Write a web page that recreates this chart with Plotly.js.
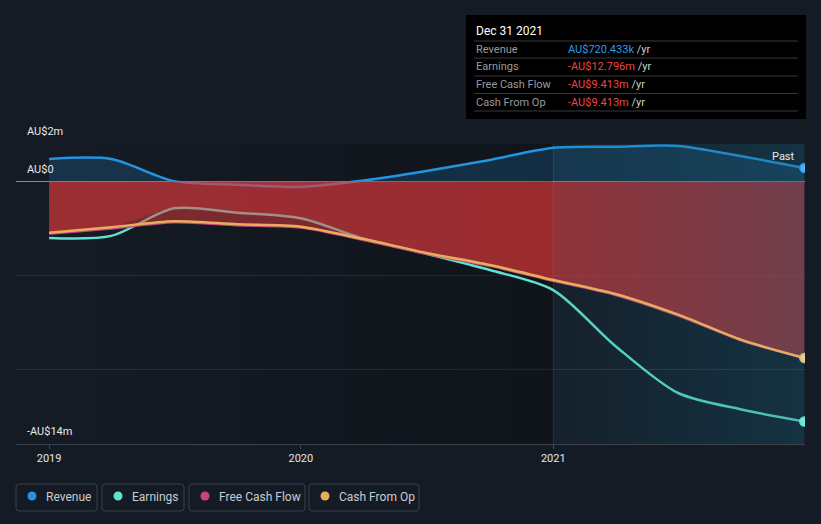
<!DOCTYPE html>
<html><head><meta charset="utf-8">
<script src="https://cdn.plot.ly/plotly-3.0.1.min.js"></script>
<style>html,body{margin:0;padding:0;background:#151b24;}#chart{width:821px;height:524px;}</style>
</head><body><div id="chart"></div>
<script>
// ---- data (AU$ millions) ----
const dates = ['2019-01-01','2019-04-01','2019-07-01','2019-10-01','2020-01-01','2020-04-01','2020-07-01','2020-10-01','2021-01-01','2021-04-01','2021-07-01','2021-10-01','2021-12-31'];
const revenue = [1.2, 1.2, 0.02, -0.17, -0.29, 0.05, 0.56, 1.15, 1.8, 1.86, 1.9, 1.35, 0.72];
const earnings = [-3.01, -2.9, -1.43, -1.66, -1.96, -3.05, -3.85, -4.72, -5.79, -8.77, -11.28, -12.16, -12.796];
const cashFromOp = [-2.73, -2.44, -2.12, -2.28, -2.41, -3.07, -3.81, -4.45, -5.25, -6.0, -7.1, -8.45, -9.413];
const freeCashFlow = [-2.79, -2.5, -2.17, -2.33, -2.46, -3.12, -3.86, -4.5, -5.3, -6.05, -7.15, -8.48, -9.413];
const yLabelVals = [2, 0, -14];
const yLabelText = ['AU$2m', 'AU$0', '-AU$14m'];
const yGridVals = [2, -5, -10];
const xTickVals = ['2019-01-01', '2020-01-01', '2021-01-01'];
const xTickText = ['2019', '2020', '2021'];
const seriesNames = ['Revenue', 'Earnings', 'Free Cash Flow', 'Cash From Op'];
const tooltipDate = 'Dec 31 2021';
const tooltipValues = ['AU$720.433k', '-AU$12.796m', '-AU$9.413m', '-AU$9.413m'];
const highlightStart = '2021-01-01';

// ---- styling ----
const C = {rev:'#2394df', earn:'#5fe3d0', fcf:'#c4457f', cfo:'#e8ad5c'};
const legendColors = [C.rev, C.earn, C.fcf, C.cfo];
const W=821, H=524, L=16, R=16, T=144, B=80;
const pw=W-L-R, ph=H-T-B;
const px = x => (x-L)/pw, py = y => (H-B-y)/ph;
const firstX = dates[0];
const lastX = dates[dates.length-1];
const last = a => a[a.length-1];
const upper = earnings.map((e,i) => Math.max(e, cashFromOp[i]));
const sp = {shape:'spline', smoothing:0.8};

const traces = [
  {x:[firstX, highlightStart, highlightStart, firstX], y:[2, 2, -14, -14], mode:'lines', line:{width:0}, fill:'toself',
   fillcolor:'rgba(0,0,0,0.12)',
   fillgradient:{type:'horizontal', colorscale:[[0,'rgba(0,0,0,0)'],[1,'rgba(0,0,0,0.25)']]}, hoverinfo:'skip'},
  {x:dates, y:revenue, mode:'lines', fill:'tozeroy', fillcolor:'rgba(35,148,223,0.2)', line:Object.assign({color:C.rev, width:2.5}, sp), hoverinfo:'skip'},
  {x:dates, y:upper, mode:'lines', fill:'tozeroy', fillcolor:'rgba(227,57,60,0.3)', line:Object.assign({width:0, color:'rgba(0,0,0,0)'}, sp), hoverinfo:'skip'},
  {x:dates, y:earnings, mode:'lines', line:Object.assign({color:C.earn, width:2.5}, sp), hoverinfo:'skip'},
  {x:dates, y:freeCashFlow, mode:'lines', line:Object.assign({color:C.fcf, width:2.5}, sp), hoverinfo:'skip'},
  {x:dates, y:cashFromOp, mode:'lines', fill:'tozeroy', fillcolor:'rgba(227,57,60,0.5)', line:Object.assign({width:0, color:'rgba(0,0,0,0)'}, sp), hoverinfo:'skip'},
  {x:[highlightStart, lastX, lastX, highlightStart], y:[2, 2, -14, -14], mode:'lines', line:{width:0}, fill:'toself',
   fillcolor:'rgba(20,100,130,0.2)',
   fillgradient:{type:'horizontal', colorscale:[[0,'rgba(20,100,130,0.08)'],[1,'rgba(20,100,130,0.32)']]}, hoverinfo:'skip'},
  {x:dates, y:cashFromOp, mode:'lines', line:Object.assign({color:C.cfo, width:2.5}, sp), hoverinfo:'skip'},
  {x:[lastX], y:[last(revenue)], mode:'markers', marker:{size:9, color:'#4fb2f2', line:{color:C.rev, width:1.5}}, hoverinfo:'skip'},
  {x:[lastX], y:[last(cashFromOp)], mode:'markers', marker:{size:9, color:'#ddd09c', line:{color:'#c9b77a', width:1.5}}, hoverinfo:'skip'},
  {x:[lastX], y:[last(earnings)], mode:'markers', marker:{size:9, color:'#6fe8d8', line:{color:C.earn, width:1.5}}, hoverinfo:'skip'}
];

function roundRect(x0,y0,x1,y1,r){
  const X=px, Y=py;
  return `M ${X(x0+r)} ${Y(y0)} L ${X(x1-r)} ${Y(y0)} Q ${X(x1)} ${Y(y0)} ${X(x1)} ${Y(y0+r)} L ${X(x1)} ${Y(y1-r)} Q ${X(x1)} ${Y(y1)} ${X(x1-r)} ${Y(y1)} L ${X(x0+r)} ${Y(y1)} Q ${X(x0)} ${Y(y1)} ${X(x0)} ${Y(y1-r)} L ${X(x0)} ${Y(y0+r)} Q ${X(x0)} ${Y(y0)} ${X(x0+r)} ${Y(y0)} Z`;
}

const shapes = [
  {type:'line', xref:'x', yref:'paper', x0:highlightStart, x1:highlightStart, y0:py(448), y1:1, line:{color:'rgba(255,255,255,0.09)', width:1}},
  {type:'rect', xref:'paper', yref:'paper', x0:px(466), x1:px(806), y0:py(119), y1:py(15), fillcolor:'#000000', line:{width:0}}
];
[41, 58, 76, 93.5, 111].forEach(yy => shapes.push({type:'line', xref:'paper', yref:'paper', x0:px(474), x1:px(798), y0:py(yy), y1:py(yy), line:{color:'#383838', width:1}}));

const annotations = [];
yLabelVals.forEach((v,i) => annotations.push({xref:'paper', yref:'y', x:px(25), y:v, xanchor:'left', yanchor:'bottom', yshift:4, text:yLabelText[i], showarrow:false, font:{size:11, color:'#e8e8e8'}}));
annotations.push({xref:'paper', yref:'paper', x:px(797), y:py(156), xanchor:'right', yanchor:'middle', text:'Past', showarrow:false, font:{size:11, color:'#e8e8e8'}});
annotations.push({xref:'paper', yref:'paper', x:px(474), y:py(31), xanchor:'left', yanchor:'middle', text:tooltipDate, showarrow:false, font:{size:12, color:'#ffffff'}});
const rowY = [49, 66.5, 84.5, 102];
const valColors = ['#2f9ce6', '#ee4444', '#ee4444', '#ee4444'];
seriesNames.forEach((n,i) => {
  annotations.push({xref:'paper', yref:'paper', x:px(474), y:py(rowY[i]), xanchor:'left', yanchor:'middle', text:n, showarrow:false, font:{size:11, color:'#9a9a9a'}});
  annotations.push({xref:'paper', yref:'paper', x:px(566), y:py(rowY[i]), xanchor:'left', yanchor:'middle',
    text:`<span style="color:${valColors[i]}">${tooltipValues[i]}</span><span style="color:#cfcfcf"> /yr</span>`, showarrow:false, font:{size:11}});
});
// legend boxes
const boxes = [[16,97],[102,184],[189,305],[309,419]];
const dotX = [32, 118, 205, 325];
const txtX = [44, 130, 217, 337];
seriesNames.forEach((n,i) => {
  shapes.push({type:'path', xref:'paper', yref:'paper', path:roundRect(boxes[i][0], 484, boxes[i][1], 511, 3), line:{color:'#3a404a', width:1}, fillcolor:'rgba(0,0,0,0)'});
  shapes.push({type:'circle', xref:'paper', yref:'paper', x0:px(dotX[i]-4.5), x1:px(dotX[i]+4.5), y0:py(496+4.5), y1:py(496-4.5), fillcolor:legendColors[i], line:{width:0}});
  annotations.push({xref:'paper', yref:'paper', x:px(txtX[i]), y:py(496.5), xanchor:'left', yanchor:'middle', text:n, showarrow:false, font:{size:12, color:'#c9ccd1'}});
});

const layout = {
  width:W, height:H,
  margin:{l:L, r:R, t:T, b:B, pad:0},
  paper_bgcolor:'#151b24', plot_bgcolor:'#151b24',
  showlegend:false,
  font:{family:'Roboto, "Open Sans", sans-serif', color:'#e6e6e6', size:11},
  xaxis:{type:'date', range:['2018-11-14','2022-01-01'], tickvals:xTickVals, ticktext:xTickText, showgrid:false, zeroline:false,
         showline:true, linecolor:'#3c424b', linewidth:1, ticks:'outside', ticklen:4, tickcolor:'#3c424b', tickfont:{size:11, color:'#e6e6e6'}, fixedrange:true},
  yaxis:{range:[-14,2], tickvals:yGridVals, showticklabels:false, showgrid:true, gridcolor:'#2b313b', gridwidth:1,
         zeroline:true, zerolinecolor:'#8a8d92', zerolinewidth:1.5, showline:false, ticks:'', fixedrange:true},
  shapes:shapes, annotations:annotations
};
Plotly.newPlot('chart', traces, layout, {displayModeBar:false, staticPlot:true});
</script></body></html>
